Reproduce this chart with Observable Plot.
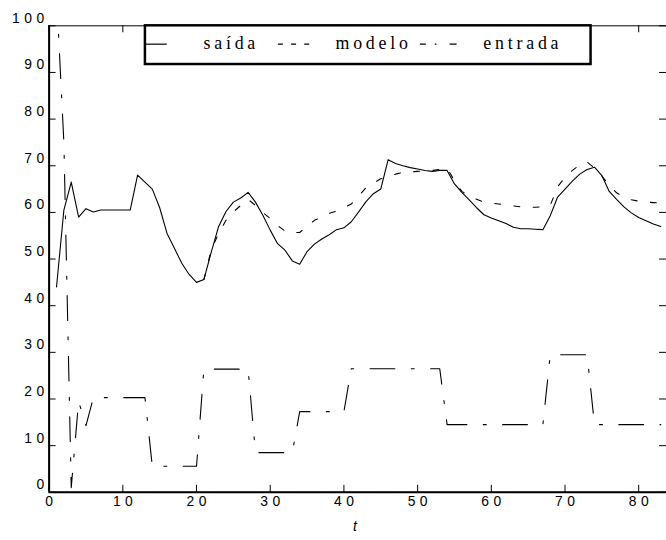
<!DOCTYPE html>
<html><head><meta charset="utf-8">
<script src="https://cdn.jsdelivr.net/npm/d3@7"></script>
<script src="https://cdn.jsdelivr.net/npm/@observablehq/plot@0.6"></script>
<style>
html,body{margin:0;padding:0;background:#fff;overflow:hidden;}
#chart{width:666px;height:540px;overflow:hidden;}
</style></head><body><div id="chart"></div>
<script>
// ---- data ----
const tAll = d3.range(1, 84); // t = 1..83
const saida = [44, 60.5, 66.5, 59, 60.8, 60.1, 60.5, 60.5, 60.5, 60.5,
  60.5, 68, 66.5, 65, 61, 55.5, 52.3, 49.1, 46.7, 45,
  45.6, 51.5, 57, 60.2, 62.2, 63.1, 64.3, 62.2, 59.4, 56.2,
  53.3, 51.9, 49.6, 48.9, 51.6, 53.2, 54.3, 55.2, 56.3, 56.7,
  58, 60.1, 62.3, 64, 65, 71.3, 70.5, 70, 69.6, 69.3,
  69, 68.8, 69, 69, 66.1, 64.3, 62.7, 61, 59.5, 58.8,
  58.2, 57.6, 56.8, 56.5, 56.5, 56.4, 56.3, 59.3, 63.3, 65,
  66.7, 68.2, 69.2, 69.7, 67.9, 64.5, 62.8, 61.2, 59.9, 58.9,
  58.2, 57.5, 57];
const tModelo = d3.range(21, 84); // t = 21..83 (before t=21 it coincides with saída)
const modelo = [45.6, 52, 55.5, 58.3, 60.1, 61.5, 62.8, 61.5, 60, 58.7,
  57.2, 56, 55.7, 55.7, 57, 58.3, 59, 59.8, 60.3, 61,
  61.8, 63.5, 65.3, 66.3, 67.2, 67.7, 68.2, 68.6, 68.7, 68.8,
  68.9, 69, 69.2, 69.5, 66.8, 64.5, 63.5, 62.8, 62.2, 62,
  61.8, 61.6, 61.4, 61.2, 61.1, 61.1, 61.2, 61.5, 65.5, 67.5,
  69, 70.2, 70.8, 69.5, 67.8, 65.8, 64.2, 63.3, 62.7, 62.4,
  62.2, 62.1, 62];
const entrada = [107, 75, 1, 19.5, 14.3,
  20.3, 20.3, 20.3, 20.3, 20.3, 20.3, 20.3, 20.3,
  5.6, 5.6, 5.6, 5.6, 5.6, 5.6, 5.6,
  26.4, 26.4, 26.4, 26.4, 26.4, 26.4, 26.4,
  8.5, 8.5, 8.5, 8.5, 8.5, 8.5,
  17.3, 17.3, 17.3, 17.3, 17.3, 17.3, 17.3,
  26.5, 26.5, 26.5, 26.5, 26.5, 26.5, 26.5, 26.5, 26.5, 26.5, 26.5, 26.5, 26.5,
  14.5, 14.5, 14.5, 14.5, 14.5, 14.5, 14.5, 14.5, 14.5, 14.5, 14.5, 14.5, 14.5, 14.5,
  29.5, 29.5, 29.5, 29.5, 29.5, 29.5,
  14.5, 14.5, 14.5, 14.5, 14.5, 14.5, 14.5, 14.5, 14.5, 14.5];
const xTicks = [0, 10, 20, 30, 40, 50, 60, 70, 80];
const yTicks = [0, 10, 20, 30, 40, 50, 60, 70, 80, 90, 100];
const legendNames = ["saída", "modelo", "entrada"];
const xLabel = "t";

// ---- layout ----
const W = 671, H = 540; // right frame edge lies just outside the 666px picture
const mL = 49, mR = 0, mT = 25.5, mB = 44.5;
const fW = W - mL - mR, fH = H - mT - mB;
const LS = 4.5; // letter spacing of tick labels
const sans = "'Liberation Sans', Arial, Helvetica, sans-serif";

const rowsS = tAll.map((t, i) => ({t, v: saida[i]}));
const rowsM = tModelo.map((t, i) => ({t, v: modelo[i]}));
const rowsE = tAll.map((t, i) => ({t, v: entrada[i]}));

const chart = Plot.plot({
  width: W, height: H,
  marginLeft: mL, marginRight: mR, marginTop: mT, marginBottom: mB,
  x: {domain: [0, (W - mL) / 7.425], axis: null},
  y: {domain: [0, 100], axis: null},
  style: {fontFamily: sans, fontSize: "14px", background: "#fff", color: "#000"},
  marks: [
    Plot.frame({stroke: "#000", strokeWidth: 1}),
    Plot.tickY(yTicks, {y: d => d, insetRight: fW - 7, stroke: "#000"}),
    Plot.tickY(yTicks, {y: d => d, insetLeft: fW - 7, stroke: "#000"}),
    Plot.tickX(xTicks, {x: d => d, insetTop: fH - 7, stroke: "#000"}),
    Plot.tickX(xTicks, {x: d => d, insetBottom: fH - 7, stroke: "#000"}),
    Plot.line(rowsE, {x: "t", y: "v", stroke: "#000", strokeWidth: 1.1, strokeDasharray: "25,16.5,3,16.5", clip: true}),
    Plot.line(rowsM, {x: "t", y: "v", stroke: "#000", strokeWidth: 1.1, strokeDasharray: "6,13.5", clip: true}),
    Plot.line(rowsS, {x: "t", y: "v", stroke: "#000", strokeWidth: 1.1, clip: true}),
    Plot.ruleX([0], {stroke: "#000", strokeWidth: 2}),
    Plot.ruleY([0], {stroke: "#000", strokeWidth: 2}),
    Plot.text(yTicks, {y: d => d, frameAnchor: "left", textAnchor: "end", dx: -5 + LS, dy: -7.5, text: d => String(d), fontSize: 14}),
    Plot.text(xTicks, {x: d => d, frameAnchor: "bottom", lineAnchor: "top", dy: 4, dx: LS / 2, text: d => String(d), fontSize: 14})
  ]
});
d3.select(chart).selectAll("text").attr("letter-spacing", LS + "px");

const svg = d3.select(chart);
// ---- x axis title (centred on the visible frame) ----
svg.append("text").attr("x", (mL + 666) / 2).attr("y", 535).attr("text-anchor", "middle")
  .attr("font-family", sans).attr("font-size", 14).attr("font-style", "italic").attr("fill", "#000").text(xLabel);

// ---- legend ----
const g = svg.append("g");
g.append("rect").attr("x", 146).attr("y", 25.5).attr("width", 449).attr("height", 39)
  .attr("fill", "#fff").attr("stroke", "#000").attr("stroke-width", 2.5);
const ly = 44.5, ty = 49.5;
const samples = [
  {x1: 147, x2: 168, dash: null, tx: 205},
  {x1: 280, x2: 316, dash: "5,8.3", tx: 338},
  {x1: 423, x2: 461, dash: "6,9,1.7,13.3,7", tx: 487}
];
samples.forEach((s, i) => {
  const l = g.append("line").attr("x1", s.x1).attr("x2", s.x2).attr("y1", ly).attr("y2", ly)
    .attr("stroke", "#000").attr("stroke-width", 1.2);
  if (s.dash) l.attr("stroke-dasharray", s.dash);
  g.append("text").attr("x", s.tx).attr("y", ty).attr("text-anchor", "start").text(legendNames[i])
    .attr("font-family", "'Liberation Serif', 'Times New Roman', serif")
    .attr("font-size", 18).attr("letter-spacing", "3.8px").attr("fill", "#000");
});

document.getElementById("chart").appendChild(chart);
</script></body></html>
